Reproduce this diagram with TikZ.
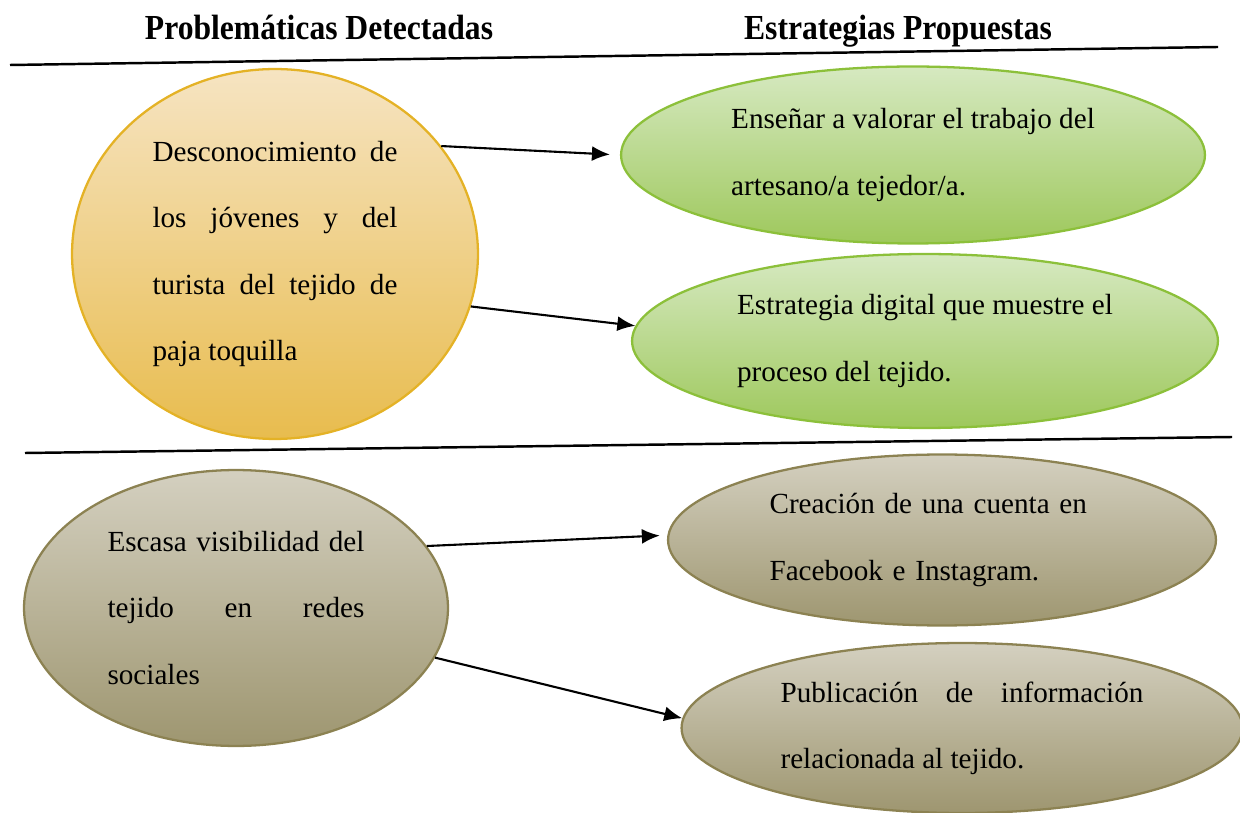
\documentclass[tikz,border=0pt]{standalone}
\usepackage{fontspec}
\setmainfont{Liberation Serif}
\newfontfamily\titulofont[FakeStretch=0.9]{Liberation Serif}
\usepackage{tikz}
\usetikzlibrary{positioning,shapes,arrows,arrows.meta}

\definecolor{naranjaclaro}{RGB}{246,228,194}
\definecolor{naranjaosc}{RGB}{232,188,78}
\definecolor{naranjaborde}{RGB}{228,178,38}
\definecolor{verdeclaro}{RGB}{214,233,193}
\definecolor{verdeosc}{RGB}{158,200,92}
\definecolor{verdeborde}{RGB}{140,192,58}
\definecolor{cafeclaro}{RGB}{212,208,192}
\definecolor{cafeosc}{RGB}{158,150,112}
\definecolor{cafeborde}{RGB}{140,130,82}

\newcommand{\fila}[2]{\makebox[#1][s]{#2}}

\tikzset{
  titulo/.style={font=\titulofont\fontsize{20}{22}\selectfont\bfseries, text=black, anchor=base},
  globo/.style={ellipse, inner sep=0pt, line width=1.3pt, text=black, align=left,
    font=\fontsize{16.6}{37.6}\selectfont},
  naranja/.style={globo, draw=naranjaborde, top color=naranjaclaro, bottom color=naranjaosc},
  verde/.style={globo, draw=verdeborde, top color=verdeclaro, bottom color=verdeosc},
  cafe/.style={globo, draw=cafeborde, top color=cafeclaro, bottom color=cafeosc},
  flecha/.style={-{Latex[length=3.6mm,width=3mm]}, line width=1.2pt, black},
  separador/.style={line width=1.4pt, black}
}

\begin{document}
\begin{tikzpicture}[x=0.02cm, y=-0.02cm]
  \useasboundingbox (0,0) rectangle (1240,813);

  \node[titulo] (tprob) at (319,40) {Problemáticas Detectadas};
  \node[titulo] (testr) at (898,40) {Estrategias Propuestas};
  \draw[separador] (10,65) -- (1218,47);
  \draw[separador] (25,453) -- (1232,437);

  \node[naranja, minimum width=8.12cm, minimum height=7.4cm] (prob1) at (275,254)
    {\fila{4.9cm}{Desconocimiento de}\\\fila{4.9cm}{los jóvenes y del}\\\fila{4.9cm}{turista del tejido de}\\paja toquilla};
  \node[verde, minimum width=11.68cm, minimum height=3.54cm] (sol1) at (913,155)
    {Enseñar a valorar el trabajo del\\artesano/a tejedor/a.};
  \node[verde, minimum width=11.72cm, minimum height=3.48cm] (sol2) at (925,341)
    {Estrategia digital que muestre el\\proceso del tejido.};

  \node[cafe, minimum width=8.48cm, minimum height=5.52cm] (prob2) at (236,608)
    {\fila{5.14cm}{Escasa visibilidad del}\\\fila{5.14cm}{tejido en redes}\\sociales};
  \node[cafe, text width=6.9cm, minimum width=10.96cm, minimum height=3.42cm] (sol3) at (942,540)
    {Creación de una cuenta en\\Facebook e Instagram.};
  \node[cafe, minimum width=11.22cm, minimum height=3.4cm] (sol4) at (962,728)
    {\fila{7.26cm}{Publicación de información}\\relacionada al tejido.};

  \draw[flecha, shorten >=0.2cm] (prob1.33) -- (sol1.west);
  \draw[flecha] (prob1.-15) -- (sol2.177);
  \draw[flecha, shorten >=0.15cm] (prob2.18) -- (sol3.179);
  \draw[flecha] (prob2.-14) -- (sol4.178);
\end{tikzpicture}
\end{document}
